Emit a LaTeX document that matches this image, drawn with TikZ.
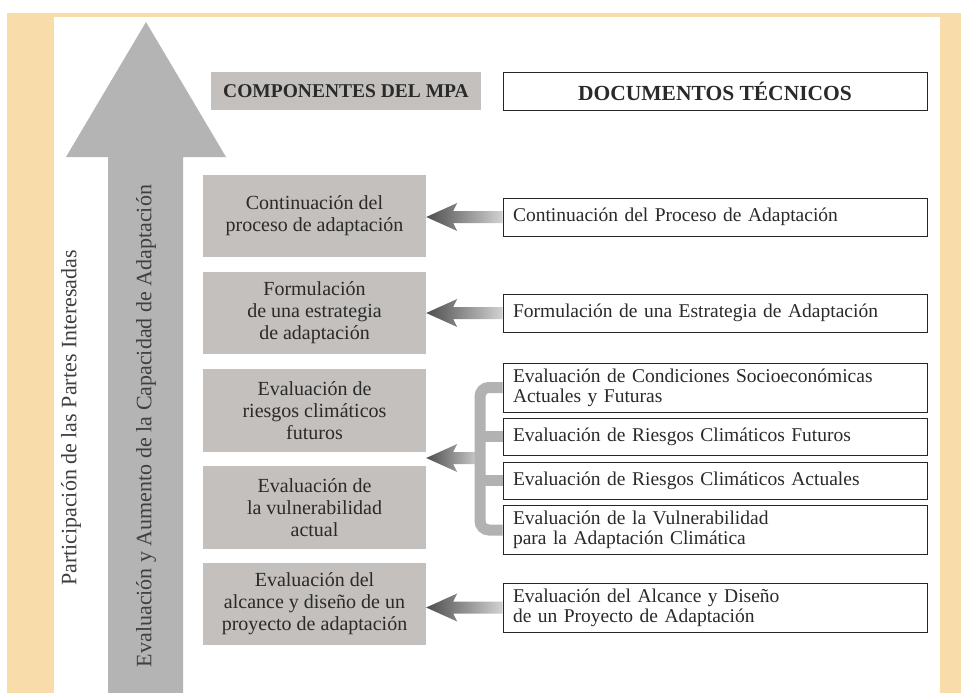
\documentclass[tikz,border=0pt]{standalone}
\usepackage{fontspec}
\setmainfont{Liberation Serif}
\usetikzlibrary{calc}

\definecolor{bgorange}{HTML}{F8DCA9}
\definecolor{boxgray}{HTML}{C3C0BD}
\definecolor{biggray}{HTML}{B4B4B4}
\definecolor{bargray}{HTML}{B2B2B2}
\definecolor{darkarrow}{HTML}{4E4E4E}
\definecolor{lightarrow}{HTML}{D2D2D2}
\definecolor{inkgray}{HTML}{2A2A2A}

\tikzset{
  compbox/.style={fill=boxgray, text=inkgray, align=center, minimum width=223pt,
    inner sep=0pt, font=\fontsize{20}{22}\selectfont},
  docbox/.style={draw=black!85, line width=0.8pt, fill=white, text=inkgray, align=left,
    text width=404pt, inner xsep=10pt, inner ysep=0pt, font=\fontsize{19.5}{20}\selectfont},
  sidetext/.style={rotate=90, text=inkgray!90, font=\fontsize{22}{24}\selectfont},
  bracket/.style={draw=bargray, line width=11pt, rounded corners=9pt}
}

% thick shaded arrow from #1 (right) to #2 (left)
\newcommand{\flecha}[2]{%
  \path let \p1=#1, \p2=#2 in [left color=darkarrow, right color=lightarrow]
    (\x1,\y1+6pt) -- (\x2+27pt,\y1+6pt) -- (\x2+31pt,\y1+14pt) -- (\x2,\y1)
    -- (\x2+31pt,\y1-14pt) -- (\x2+27pt,\y1-6pt) -- (\x1,\y1-6pt) -- cycle;}

\begin{document}
\begin{tikzpicture}[x=1pt,y=-1pt]
  % page frame
  \useasboundingbox (0,0) rectangle (961,693);
  \fill[white] (0,0) rectangle (961,693);
  \fill[bgorange] (7,13) rectangle (961,693);
  \fill[white] (54,17) rectangle (940,693);

  % big upward arrow
  \fill[biggray] (108,693) -- (108,157) -- (66,157) -- (146,22)
    -- (226,157) -- (183,157) -- (183,693) -- cycle;
  \node[sidetext] (capacidad) at (146,426) {Evaluación y Aumento de la Capacidad de Adaptación};
  \node[sidetext] (partes) at (71,418) {Participación de las Partes Interesadas};

  % headers
  \node[fill=boxgray, text=inkgray, minimum width=270pt, minimum height=38pt,
    font=\fontsize{19.5}{22}\selectfont\bfseries] (comp) at (346,91) {COMPONENTES DEL MPA};
  \node[draw=black!85, line width=0.8pt, text=inkgray, minimum width=424pt, minimum height=38pt,
    font=\fontsize{21.5}{22}\selectfont\bfseries] (docs) at (715,91) {DOCUMENTOS TÉCNICOS};

  % components of the MPA
  \node[compbox, minimum height=82pt] (l1) at (314.5,216) {Continuación del\\proceso de adaptación};
  \node[compbox, minimum height=82pt] (l2) at (314.5,313) {Formulación\\de una estrategia\\de adaptación};
  \node[compbox, minimum height=83pt] (l3) at (314.5,410.5) {Evaluación de\\riesgos climáticos\\futuros};
  \node[compbox, minimum height=83pt] (l4) at (314.5,507.5) {Evaluación de\\la vulnerabilidad\\actual};
  \node[compbox, minimum height=82pt] (l5) at (314.5,604) {Evaluación del\\alcance y diseño de un\\proyecto de adaptación};

  % technical documents
  \node[docbox, minimum height=38pt] (r1) at (715,217) {Continuación del Proceso de Adaptación};
  \node[docbox, minimum height=38pt] (r2) at (715,313) {Formulación de una Estrategia de Adaptación};
  \node[docbox, minimum height=49pt] (r3) at (715,387.5) {Evaluación de Condiciones Socioeconómicas\\Actuales y Futuras};
  \node[docbox, minimum height=37pt] (r4) at (715,436.5) {Evaluación de Riesgos Climáticos Futuros};
  \node[docbox, minimum height=37pt] (r5) at (715,480.5) {Evaluación de Riesgos Climáticos Actuales};
  \node[docbox, minimum height=49pt] (r6) at (715,530) {Evaluación de la Vulnerabilidad\\para la Adaptación Climática};
  \node[docbox, minimum height=49pt] (r7) at (715,607.5) {Evaluación del Alcance y Diseño\\de un Proyecto de Adaptación};

  % arrows
  \flecha{(r1.west)}{(l1.east)}
  \flecha{(r2.west)}{(l2.east)}
  \flecha{(r7.west)}{(l5.east)}

  % bracket joining the four documents
  \coordinate (bar) at (480,458);
  \coordinate (mid) at ($(l3.south east)!0.5!(l4.north east)$);
  \flecha{(bar)}{(mid)}
  \draw[bracket] (r3.west) -| (bar) |- (r6.west);
  \draw[bracket] (r4.west) -- (r4.west -| bar);
  \draw[bracket] (r5.west) -- (r5.west -| bar);
\end{tikzpicture}
\end{document}
